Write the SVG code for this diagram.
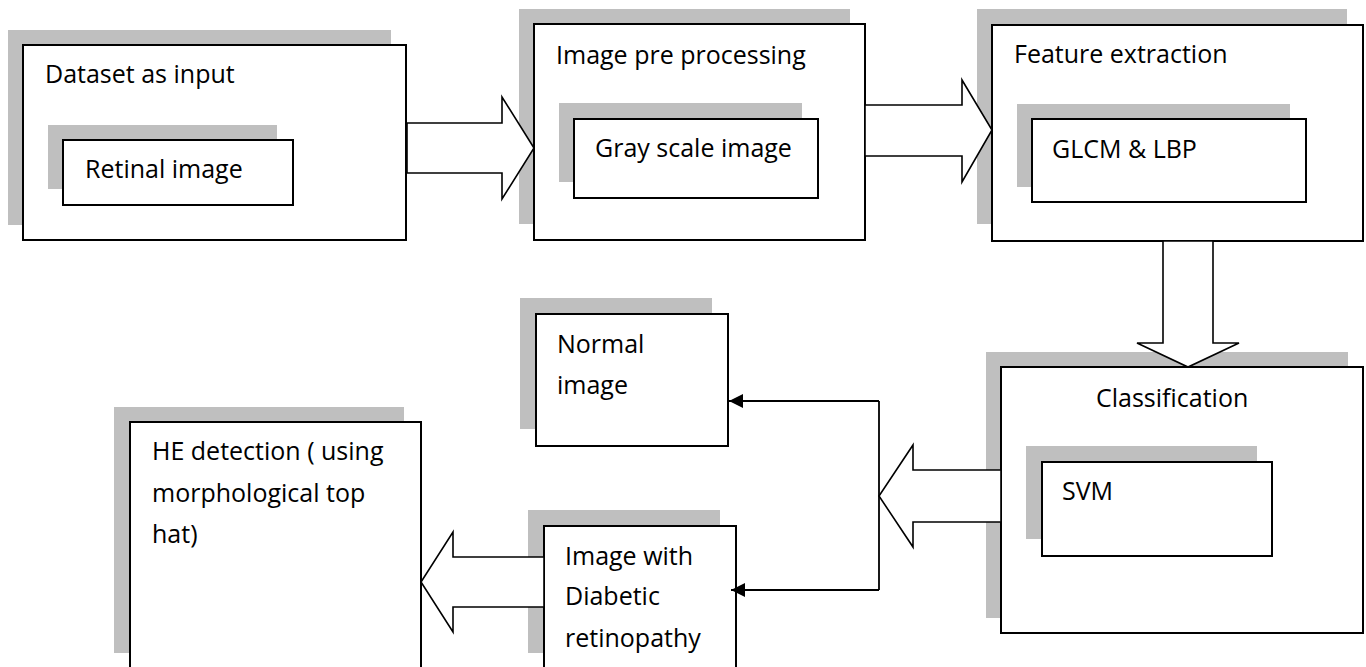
<svg xmlns="http://www.w3.org/2000/svg" width="1366" height="667" viewBox="0 0 1366 667">
<style>
.bg{fill:#ffffff}
.sh{fill:#bfbfbf;stroke:none}
.bx{fill:#ffffff;stroke:#000;stroke-width:2}
.ib{fill:#ffffff;stroke:#000;stroke-width:2}
.t{font-family:"Open Sans","Liberation Sans",sans-serif;font-size:25px;fill:#000}
.blk{fill:#ffffff;stroke:#000;stroke-width:1.6;stroke-linejoin:miter}
.ln{fill:none;stroke:#000;stroke-width:1.8}
</style>
<defs>
<marker id="ah" viewBox="0 0 14 14" refX="14" refY="7" markerWidth="14" markerHeight="14" markerUnits="userSpaceOnUse" orient="auto">
<path d="M0,0 L14,7 L0,14 Z" fill="#000"/>
</marker>
</defs>
<rect class="bg" x="0" y="0" width="1366" height="667"/>

<g id="node-dataset">
<rect class="sh" x="8" y="30" width="383" height="195"/>
<rect class="bx" x="23" y="45" width="383" height="195"/>
<text class="t" x="45" y="83">Dataset as input</text>
<rect class="sh" x="48" y="125" width="229" height="64"/>
<rect class="ib" x="63" y="140" width="230" height="65"/>
<text class="t" x="85" y="178">Retinal image</text>
</g>

<g id="node-preprocessing">
<rect class="sh" x="519" y="9" width="331" height="215"/>
<rect class="bx" x="534" y="24" width="331" height="216"/>
<text class="t" x="556" y="64">Image pre processing</text>
<rect class="sh" x="559" y="103" width="243" height="79"/>
<rect class="ib" x="574" y="119" width="244" height="79"/>
<text class="t" x="595" y="157">Gray scale image</text>
</g>

<g id="node-feature">
<rect class="sh" x="977" y="9" width="370" height="215"/>
<rect class="bx" x="992" y="25" width="371" height="216"/>
<text class="t" x="1014" y="63">Feature extraction</text>
<rect class="sh" x="1017" y="104" width="273" height="83"/>
<rect class="ib" x="1032" y="119" width="274" height="83"/>
<text class="t" x="1052" y="158">GLCM &amp; LBP</text>
</g>

<g id="node-classification">
<rect class="sh" x="986" y="352" width="362" height="266"/>
<rect class="bx" x="1001" y="367" width="362" height="266"/>
<text class="t" x="1096" y="407">Classification</text>
<rect class="sh" x="1026" y="446" width="231" height="93"/>
<rect class="ib" x="1042" y="462" width="230" height="94"/>
<text class="t" x="1062" y="500">SVM</text>
</g>

<g id="node-normal">
<rect class="sh" x="520" y="298" width="192" height="131"/>
<rect class="bx" x="536" y="314" width="192" height="132"/>
<text class="t" x="557" y="353">Normal</text>
<text class="t" x="557" y="394">image</text>
</g>

<g id="node-dr">
<rect class="sh" x="528" y="510" width="192" height="143"/>
<rect class="bx" x="544" y="526" width="192" height="160"/>
<text class="t" x="565" y="565">Image with</text>
<text class="t" x="565" y="605">Diabetic</text>
<text class="t" x="565" y="647">retinopathy</text>
</g>

<g id="node-he">
<rect class="sh" x="114" y="407" width="290" height="246"/>
<rect class="bx" x="130" y="422" width="291" height="264"/>
<text class="t" x="152" y="460">HE detection ( using</text>
<text class="t" x="152" y="502">morphological top</text>
<text class="t" x="152" y="543">hat)</text>
</g>

<g id="connectors">
<path class="blk" d="M407,123 L502,123 L502,97 L534,148 L502,199 L502,173 L407,173 Z"/>
<path class="blk" d="M865,105 L962,105 L962,80 L992,130 L962,182 L962,156 L865,156 Z"/>
<path class="blk" d="M1163,241 L1163,343 L1137,343 L1188,367 L1239,343 L1213,343 L1213,241 Z"/>
<path class="blk" d="M1001,470 L913,470 L913,445 L879,496 L913,547 L913,522 L1001,522 Z"/>
<path class="blk" d="M544,557 L453,557 L453,532 L421,582 L453,632 L453,607 L544,607 Z"/>
<path class="ln" d="M879,401 L879,590"/>
<path class="ln" d="M879,401 L729,401" marker-end="url(#ah)"/>
<path class="ln" d="M879,590 L731,590" marker-end="url(#ah)"/>
</g>
</svg>
